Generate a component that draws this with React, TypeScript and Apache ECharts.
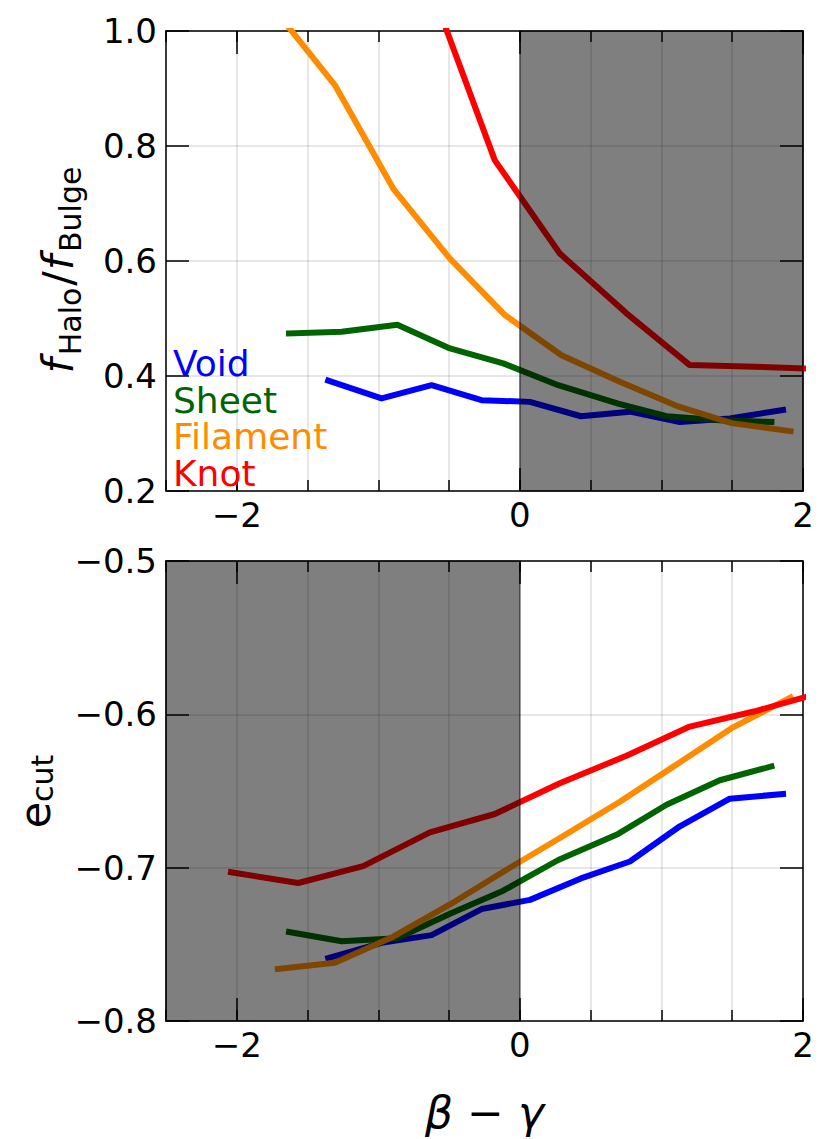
import React, { useEffect, useRef } from "react";
import * as echarts from "echarts";

// ---------- data ----------
const environments = ["Void", "Sheet", "Filament", "Knot"];
const envColors = ["#0000ff", "#006400", "#ff8c00", "#ff0000"];

const voidX = [-1.354, -0.977, -0.624, -0.271, 0.071, 0.431, 0.777, 1.13, 1.483, 1.859];
const voidHaloBulge = [0.392, 0.361, 0.384, 0.358, 0.355, 0.33, 0.338, 0.32, 0.326, 0.341];
const voidEcut = [-0.759, -0.749, -0.744, -0.727, -0.721, -0.707, -0.696, -0.673, -0.655, -0.652];

const sheetX = [-1.631, -1.259, -0.866, -0.494, -0.118, 0.271, 0.694, 1.036, 1.412, 1.777];
const sheetHaloBulge = [0.474, 0.477, 0.489, 0.448, 0.422, 0.384, 0.352, 0.33, 0.323, 0.32];
const sheetEcut = [-0.742, -0.748, -0.746, -0.73, -0.715, -0.695, -0.678, -0.659, -0.643, -0.634];

const filamentX = [-1.71, -1.307, -0.895, -0.494, -0.106, 0.294, 0.706, 1.118, 1.495, 1.912];
const filamentHaloBulge = [1.03, 0.906, 0.726, 0.604, 0.506, 0.436, 0.39, 0.347, 0.318, 0.304];
const filamentEcut = [-0.766, -0.762, -0.745, -0.724, -0.702, -0.68, -0.657, -0.632, -0.609, -0.589];

const knotX = [-2.041, -1.566, -1.107, -0.636, -0.177, 0.282, 0.753, 1.2, 1.66, 2.12];
const knotHaloBulge: (number | null)[] = [null, null, null, 1.08, 0.775, 0.613, 0.509, 0.419, 0.416, 0.412];
const knotEcut = [-0.703, -0.71, -0.699, -0.677, -0.665, -0.645, -0.627, -0.608, -0.598, -0.586];

const envX = [voidX, sheetX, filamentX, knotX];
const envHaloBulge = [voidHaloBulge, sheetHaloBulge, filamentHaloBulge, knotHaloBulge];
const envEcut = [voidEcut, sheetEcut, filamentEcut, knotEcut];

// axes
const xMin = -2.5;
const xMax = 2;
const xMinorStep = 0.5;
const xMajorTicks = [-2, 0, 2];
const haloRange = [0.2, 1.0];
const haloStep = 0.2;
const ecutRange = [-0.8, -0.5];
const ecutStep = 0.1;
const shadeTop = [0, 2];
const shadeBottom = [-2.5, 0];

const FONT = "DejaVu Sans";
const fixMinus = (s: string) => s.replace(/-/g, "\u2212");

function pairs(xs: number[], ys: (number | null)[]) {
  const out: number[][] = [];
  xs.forEach((x, i) => {
    const y = ys[i];
    if (y !== null && y !== undefined) out.push([x, y]);
  });
  return out;
}

const black = { color: "#000", width: 1.5 };

function xAxesFor(g: number) {
  const base = {
    type: "value",
    gridIndex: g,
    min: xMin,
    max: xMax,
    interval: xMinorStep,
  };
  return [
    {
      ...base,
      position: "bottom",
      axisLine: { show: true, onZero: false, lineStyle: black },
      axisTick: { show: true, inside: true, length: 11, lineStyle: black },
      axisLabel: {
        show: true,
        margin: 7,
        fontSize: 34,
        fontFamily: FONT,
        color: "#000",
        formatter: (v: number) =>
          xMajorTicks.some((t) => Math.abs(t - v) < 1e-9) ? fixMinus(String(Math.round(v))) : "",
      },
      splitLine: { show: true, lineStyle: { color: "rgba(0,0,0,0.13)", width: 1.5 } },
    },
    {
      ...base,
      position: "bottom",
      axisLine: { show: false, onZero: false },
      axisTick: { show: true, inside: true, length: 23, customValues: xMajorTicks, lineStyle: black },
      axisLabel: { show: false },
      splitLine: { show: false },
    },
    {
      ...base,
      position: "top",
      axisLine: { show: true, onZero: false, lineStyle: black },
      axisTick: { show: true, inside: true, length: 11, lineStyle: black },
      axisLabel: { show: false },
      splitLine: { show: false },
    },
    {
      ...base,
      position: "top",
      axisLine: { show: false, onZero: false },
      axisTick: { show: true, inside: true, length: 23, customValues: xMajorTicks, lineStyle: black },
      axisLabel: { show: false },
      splitLine: { show: false },
    },
  ];
}

function yAxesFor(g: number, range: number[], step: number) {
  const base = { type: "value", gridIndex: g, min: range[0], max: range[1], interval: step };
  return [
    {
      ...base,
      position: "left",
      axisLine: { show: true, onZero: false, lineStyle: black },
      axisTick: { show: true, inside: true, length: 23, lineStyle: black },
      axisLabel: {
        show: true,
        margin: 9,
        fontSize: 34,
        fontFamily: FONT,
        color: "#000",
        formatter: (v: number) => fixMinus(v.toFixed(1)),
      },
      splitLine: { show: true, lineStyle: { color: "rgba(0,0,0,0.13)", width: 1.5 } },
    },
    {
      ...base,
      position: "right",
      axisLine: { show: true, onZero: false, lineStyle: black },
      axisTick: { show: true, inside: true, length: 23, lineStyle: black },
      axisLabel: { show: false },
      splitLine: { show: false },
    },
  ];
}

function lineSeries(g: number, ys: (number | null)[][]) {
  return environments.map((name, i) => ({
    type: "line",
    name,
    xAxisIndex: g * 4,
    yAxisIndex: g * 2,
    data: pairs(envX[i], ys[i]),
    symbol: "none",
    showSymbol: false,
    clip: true,
    z: 2,
    lineStyle: { color: envColors[i], width: 6, cap: "square", join: "round" },
    itemStyle: { color: envColors[i] },
  }));
}

function shadeSeries(g: number, span: number[]) {
  return {
    type: "line",
    name: "shade" + g,
    xAxisIndex: g * 4,
    yAxisIndex: g * 2,
    data: [],
    z: 10,
    markArea: {
      silent: true,
      z: 10,
      itemStyle: { color: "rgba(0,0,0,0.5)", borderColor: "rgba(0,0,0,0.5)", borderWidth: 1.5 },
      data: [[{ xAxis: span[0] }, { xAxis: span[1] }]],
    },
  };
}

const LEGEND_LINE = 36.6;

function legendText() {
  const rich: Record<string, any> = {};
  environments.forEach((_, i) => {
    rich["e" + i] = {
      fill: envColors[i],
      fontSize: 36,
      fontFamily: FONT,
      lineHeight: LEGEND_LINE,
    };
  });
  return {
    type: "text",
    x: 173,
    y: 363.5 - LEGEND_LINE / 2,
    z: 100,
    style: {
      text: environments.map((n, i) => `{e${i}|${n}}`).join("\n"),
      fontSize: 36,
      fontFamily: FONT,
      lineHeight: LEGEND_LINE,
      align: "left",
      verticalAlign: "top",
      rich,
    },
  };
}

export default function App() {
  const ref = useRef<HTMLDivElement>(null);
  useEffect(() => {
    if (!ref.current) return;
    const chart = echarts.init(ref.current, undefined, { renderer: "svg" });
    const option: any = {
      animation: false,
      backgroundColor: "#ffffff",
      textStyle: { fontFamily: FONT },
      grid: [
        { left: 166, top: 31, width: 637, height: 460 },
        { left: 166, top: 561, width: 637, height: 460 },
      ],
      xAxis: [...xAxesFor(0), ...xAxesFor(1)],
      yAxis: [...yAxesFor(0, haloRange, haloStep), ...yAxesFor(1, ecutRange, ecutStep)],
      series: [
        ...lineSeries(0, envHaloBulge),
        shadeSeries(0, shadeTop),
        ...lineSeries(1, envEcut),
        shadeSeries(1, shadeBottom),
      ],
      graphic: [
        legendText(),
        {
          type: "text",
          x: 61,
          y: 270,
          rotation: Math.PI / 2,
          z: 100,
          style: {
            text: "{m|f}{s|Halo}{n|/}{m|f}{s|Bulge}",
            fill: "#000",
            fontSize: 43,
            fontFamily: FONT,
            align: "center",
            verticalAlign: "middle",
            rich: {
              m: {
                fontSize: 43,
                fontStyle: "italic",
                fontFamily: FONT,
                verticalAlign: "top",
                fill: "#000",
                padding: [0, 3, 0, 0],
              },
              n: {
                fontSize: 43,
                fontFamily: FONT,
                verticalAlign: "top",
                fill: "#000",
                padding: [0, 1, 0, 2],
              },
              s: { fontSize: 30, fontFamily: FONT, verticalAlign: "bottom", lineHeight: 49, fill: "#000" },
            },
          },
        },
        {
          type: "text",
          x: 35.6,
          y: 791.5,
          rotation: Math.PI / 2,
          z: 100,
          style: {
            text: "{n|e}{s|cut}",
            fill: "#000",
            fontSize: 43,
            fontFamily: FONT,
            align: "center",
            verticalAlign: "middle",
            rich: {
              n: { fontSize: 43, fontFamily: FONT, verticalAlign: "top", fill: "#000" },
              s: { fontSize: 30, fontFamily: FONT, verticalAlign: "bottom", lineHeight: 44, fill: "#000" },
            },
          },
        },
        {
          type: "text",
          x: 484.5,
          y: 1112,
          z: 100,
          style: {
            text: "{i|\u03B2} \u2212 {i|\u03B3}",
            fill: "#000",
            fontSize: 44,
            fontFamily: FONT,
            align: "center",
            verticalAlign: "middle",
            rich: {
              i: { fontSize: 44, fontStyle: "italic", fontFamily: FONT, fill: "#000" },
            },
          },
        },
      ],
    };
    chart.setOption(option);
    return () => chart.dispose();
  }, []);
  return (
    <div
      ref={ref}
      style={{ position: "absolute", left: 0, top: 0, width: 831, height: 1139 }}
    />
  );
}
